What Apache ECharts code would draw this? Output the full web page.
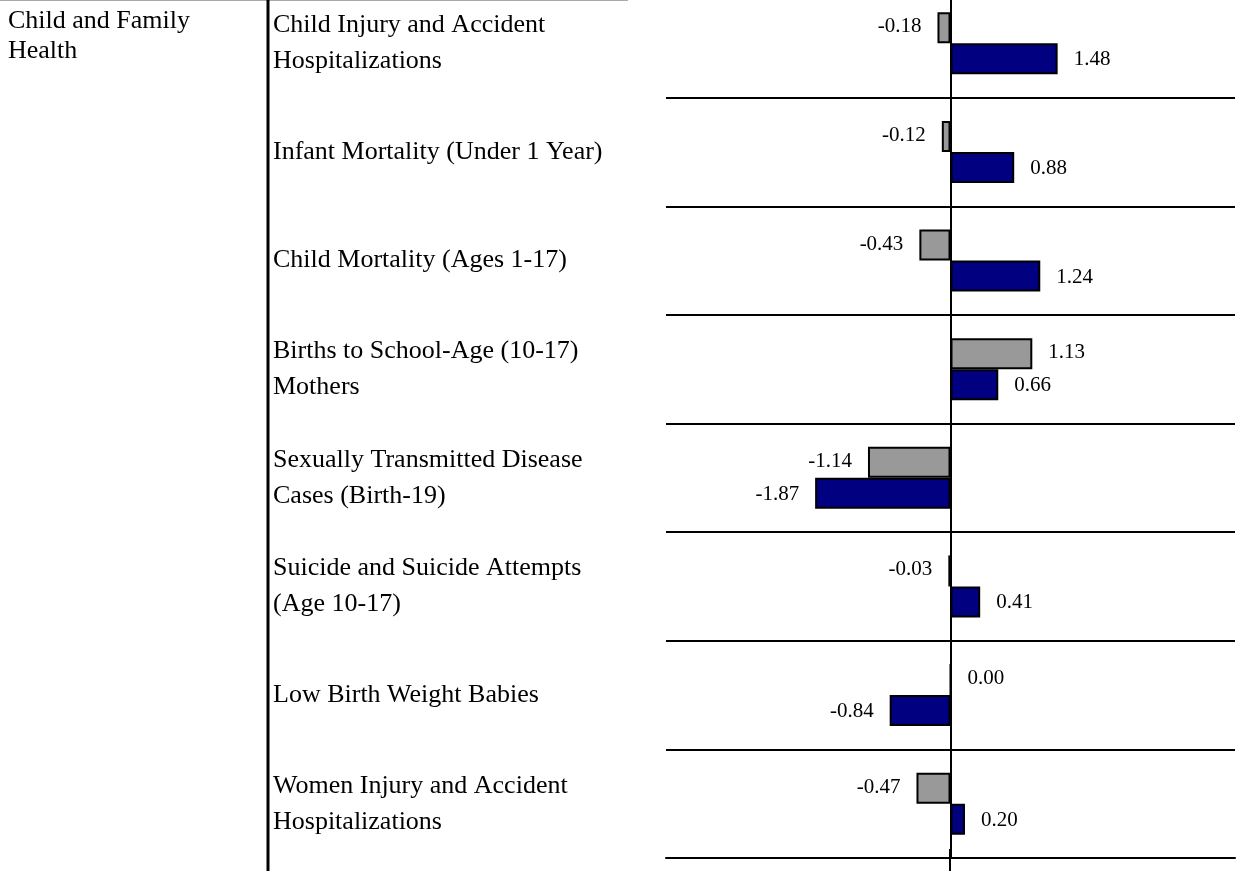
<!DOCTYPE html>
<html>
<head>
<meta charset="utf-8">
<script src="https://cdn.jsdelivr.net/npm/echarts@6/dist/echarts.min.js"></script>
<style>
  html, body { margin: 0; padding: 0; background: #fff; overflow: hidden; }
  #chart { position: absolute; left: 0; top: -11px; width: 1237px; height: 882px; }
</style>
</head>
<body>
<div id="chart"></div>
<script>
// indicator names, top to bottom
var categories = [
    'Child Injury and Accident\nHospitalizations',
    'Infant Mortality (Under 1 Year)',
    'Child Mortality (Ages 1-17)',
    'Births to School-Age (10-17)\nMothers',
    'Sexually Transmitted Disease\nCases (Birth-19)',
    'Suicide and Suicide Attempts\n(Age 10-17)',
    'Low Birth Weight Babies',
    'Women Injury and Accident\nHospitalizations'
];
var grayValues = [-0.18, -0.12, -0.43, 1.13, -1.14, -0.03, 0.00, -0.47];
var blueValues = [1.48, 0.88, 1.24, 0.66, -1.87, 0.41, -0.84, 0.20];

var font = 'Liberation Serif';
var Y0 = 11; // page y = chart y - 11

// label left of negative bars, right of the rest
function withLabels(values, dy) {
    return values.map(function (v) {
        return {
            value: v,
            label: {
                show: true,
                position: v < 0 ? 'left' : 'right',
                distance: 16,
                offset: [0, dy],
                formatter: function (p) { return p.value.toFixed(2); },
                fontFamily: font,
                fontSize: 21,
                color: '#000'
            }
        };
    });
}

var chart = echarts.init(document.getElementById('chart'));
chart.setOption({
    animation: false,
    grid: { left: 666, right: 2, top: 0, height: 869, containLabel: false },
    xAxis: {
        type: 'value', min: -3.93, max: 3.93,
        axisLabel: { show: false },
        axisTick: { show: false },
        splitLine: { show: false },
        axisLine: { show: true, lineStyle: { color: '#000', width: 2 } }
    },
    yAxis: {
        type: 'category', inverse: true, data: categories,
        axisLine: { show: true, onZero: true, lineStyle: { color: '#000', width: 2 } },
        axisTick: { show: false },
        splitLine: { show: true, lineStyle: { color: '#000', width: 2 } },
        axisLabel: {
            align: 'left', margin: 393, fontFamily: font, fontSize: 26,
            lineHeight: 36, color: '#000', verticalAlign: 'middle'
        }
    },
    series: [
        {
            type: 'bar', data: withLabels(grayValues, -1), barWidth: 31, barGap: '0%',
            itemStyle: { color: '#999999', borderColor: '#000', borderWidth: 2 }
        },
        {
            type: 'bar', data: withLabels(blueValues, 1), barWidth: 31,
            itemStyle: { color: '#000080', borderColor: '#000', borderWidth: 2 }
        }
    ],
    graphic: [
        { type: 'line', shape: { x1: 0, y1: Y0 + 0.5, x2: 628, y2: Y0 + 0.5 }, style: { stroke: '#aaa', lineWidth: 1 } },
        { type: 'line', shape: { x1: 268, y1: Y0, x2: 268, y2: 882 }, style: { stroke: '#000', lineWidth: 3 } },
        { type: 'line', shape: { x1: 950, y1: 860, x2: 950, y2: 882 }, style: { stroke: '#000', lineWidth: 2 } },
        {
            type: 'text', left: 8, top: Y0 + 6,
            style: { text: 'Child and Family\nHealth', font: '26px "Liberation Serif"', lineHeight: 30, fill: '#000' }
        }
    ]
});
</script>
</body>
</html>
